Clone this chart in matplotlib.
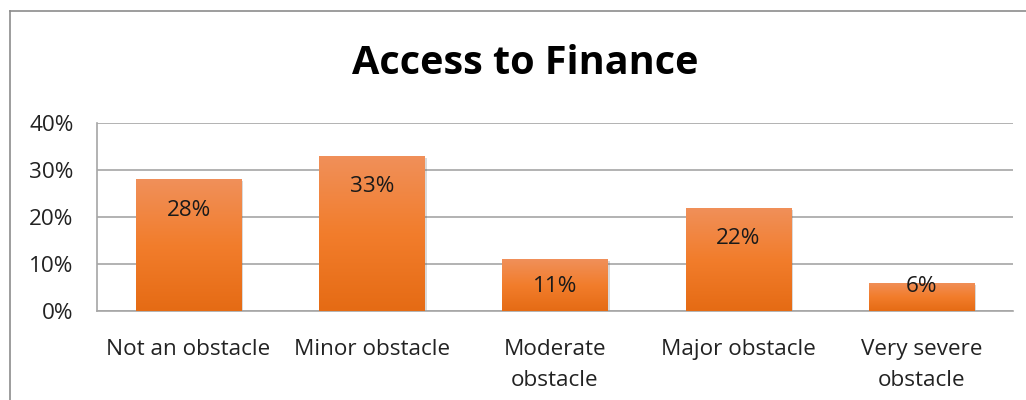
import numpy as np
import matplotlib
matplotlib.use("Agg")
import matplotlib.pyplot as plt
from matplotlib.colors import LinearSegmentedColormap
from matplotlib.lines import Line2D
import matplotlib.patheffects as pe

categories = ["Not an obstacle", "Minor obstacle", "Moderate\nobstacle",
              "Major obstacle", "Very severe\nobstacle"]
shares = [0.28, 0.33, 0.11, 0.22, 0.06]
value_labels = ["28%", "33%", "11%", "22%", "6%"]
y_ticks = [0.0, 0.1, 0.2, 0.3, 0.4]
y_tick_labels = ["0%", "10%", "20%", "30%", "40%"]
title = "Access to Finance"

FONT = "Open Sans"
FS = 16.2
W, H = 1026, 400
fig = plt.figure(figsize=(W / 100, H / 100), dpi=100)
fig.patch.set_facecolor("white")

# outer chart frame (left and top edges visible)
fig.add_artist(Line2D([10 / W, 10 / W], [0, 1 - 11 / H], transform=fig.transFigure,
                      color="#8c8c8c", lw=1.2))
fig.add_artist(Line2D([10 / W, 1], [1 - 11 / H, 1 - 11 / H], transform=fig.transFigure,
                      color="#8c8c8c", lw=1.2))

left, right, top, bottom = 97, 1013, 123, 311
ax = fig.add_axes([left / W, 1 - bottom / H, (right - left) / W, (bottom - top) / H])

for s in ["top", "right"]:
    ax.spines[s].set_visible(False)
for s in ["left", "bottom"]:
    ax.spines[s].set_color("#a6a6a6")
    ax.spines[s].set_linewidth(1.2)

ax.set_yticks(y_ticks)
ax.set_yticklabels(y_tick_labels)
ax.yaxis.grid(True, color="#a6a6a6", lw=1.2)
ax.set_axisbelow(True)
ax.tick_params(axis="y", length=0, pad=17, labelsize=FS, labelcolor="#222222")
for lbl in ax.get_yticklabels():
    lbl.set_fontfamily(FONT)

x = np.arange(len(categories))
ax.set_xticks(x)
ax.set_xticklabels(categories, fontfamily=FONT, fontsize=FS, color="#222222",
                   linespacing=1.62)
ax.tick_params(axis="x", length=0, pad=20)

cmap = LinearSegmentedColormap.from_list(
    "orange_grad", ["#e56b14", "#f27d2c", "#f0905a"])
grad = np.linspace(0, 1, 256).reshape(-1, 1)

bars = ax.bar(x, shares, width=0.575, color="#ef7b2a", zorder=2,
              path_effects=[pe.SimplePatchShadow(offset=(1.5, -1.5), alpha=0.22,
                                                 shadow_rgbFace="#555555"),
                            pe.Normal()])
for b in bars:
    x0, y0 = b.get_x(), b.get_y()
    im = ax.imshow(grad, extent=[x0, x0 + b.get_width(), y0, y0 + b.get_height()],
                   origin="lower", cmap=cmap, aspect="auto", zorder=3,
                   interpolation="bicubic")
    im.set_clip_path(b)
ax.set_xlim(-0.5, len(categories) - 0.5)
ax.set_ylim(0, 0.4)

for xi, v, txt in zip(x, shares, value_labels):
    ly = max(v - 0.066, 0.052)
    ax.text(xi, ly, txt, ha="center", va="center", fontsize=FS,
            fontfamily=FONT, color="#1a1a1a", zorder=4)

fig.text(525 / W, 1 - 64 / H, title, ha="center", va="center",
         fontsize=28.5, fontweight="bold", fontfamily=FONT, color="black")

fig.savefig("out.png", dpi=100)
